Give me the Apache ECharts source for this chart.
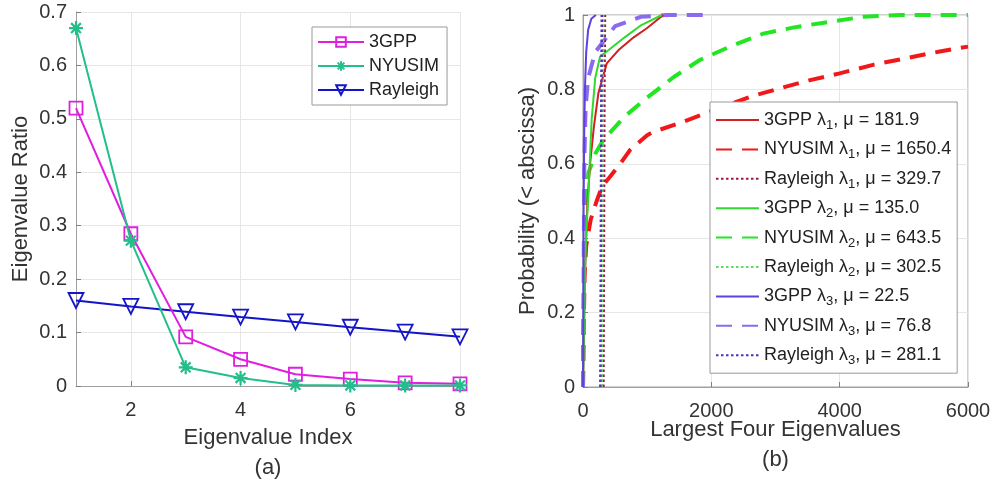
<!DOCTYPE html>
<html><head><meta charset="utf-8">
<script src="https://cdn.jsdelivr.net/npm/echarts@6/dist/echarts.min.js"></script>
<style>html,body{margin:0;padding:0;background:#fff}#c{width:995px;height:482px}</style>
</head><body><div id="c"></div>
<script>
// ---- (a) eigenvalue ratios ----
const evIndex = [1, 2, 3, 4, 5, 6, 7, 8];
const ratio3GPP = [0.520, 0.285, 0.092, 0.050, 0.022, 0.013, 0.006, 0.004];
const ratioNYUSIM = [0.670, 0.272, 0.035, 0.015, 0.002, 0.001, 0.001, 0.001];
const ratioRayleigh = [0.160, 0.149, 0.139, 0.129, 0.120, 0.110, 0.101, 0.092];
const xTicksA = [2, 4, 6, 8];

// ---- (b) CDFs of largest eigenvalues: [value, probability] ----
const cdf3GPP1 = [[0,0],[10,0.1],[20,0.2],[30,0.3],[50,0.4],[70,0.5],[110,0.6],[170,0.7],[240,0.79],[370,0.87],[550,0.905],[790,0.94],[1000,0.965],[1250,1]];
const cdfNYU1 = [[0,0],[10,0.15],[25,0.3],[50,0.38],[120,0.45],[213,0.5],[300,0.54],[421,0.565],[580,0.6],[732,0.637],[1000,0.677],[1100,0.686],[1500,0.709],[1980,0.74],[2600,0.78],[3070,0.803],[3540,0.825],[4000,0.843],[4520,0.866],[5040,0.884],[5560,0.902],[6000,0.915]];
const cdfRay1 = [[318,0],[323,0.2],[328,0.5],[334,0.8],[342,1]];
const cdf3GPP2 = [[0,0],[15,0.15],[30,0.3],[50,0.42],[80,0.5],[135,0.72],[190,0.83],[265,0.888],[400,0.906],[650,0.94],[910,0.973],[1230,1]];
const cdfNYU2 = [[0,0],[10,0.2],[20,0.35],[40,0.44],[60,0.5],[83,0.575],[200,0.63],[316,0.664],[650,0.727],[1000,0.778],[1420,0.834],[1820,0.879],[2290,0.915],[2810,0.95],[3330,0.968],[3850,0.982],[4370,0.995],[4940,1],[6000,1]];
const cdfRay2 = [[291,0],[296,0.2],[301,0.5],[307,0.8],[315,1]];
const cdf3GPP3 = [[0,0],[5,0.2],[10,0.5],[20,0.7],[30,0.8],[50,0.9],[80,0.96],[130,0.99],[200,1]];
const cdfNYU3 = [[0,0],[10,0.3],[20,0.6],[40,0.75],[80,0.83],[190,0.9],[500,0.97],[900,0.995],[1300,1],[2000,1]];
const cdfRay3 = [[270,0],[275,0.2],[280,0.5],[286,0.8],[293,1]];
const namesB = ['3GPP λ1, μ = 181.9','NYUSIM λ1, μ = 1650.4','Rayleigh λ1, μ = 329.7',
                '3GPP λ2, μ = 135.0','NYUSIM λ2, μ = 643.5','Rayleigh λ2, μ = 302.5',
                '3GPP λ3, μ = 22.5','NYUSIM λ3, μ = 76.8','Rayleigh λ3, μ = 281.1'];

const FONT = 'Liberation Sans, Arial, Helvetica, sans-serif';
const zip = (xs, ys) => xs.map((x, i) => [x, ys[i]]);
const hollow = 'rgba(255,255,255,0)';
const asterisk = 'path://M10,0L10,20M0,10L20,10M3,3L17,17M3,17L17,3';

function lineB(name, data, color, kind) {
  const ls = {color: color};
  if (kind === 'solid') { ls.width = 2; ls.type = 'solid'; }
  else if (kind === 'dash') { ls.width = 4; ls.type = [16, 10]; }
  else { ls.width = 2.5; ls.type = [2.5, 2.5]; }
  return {type: 'line', name: name, xAxisIndex: 1, yAxisIndex: 1, data: data,
          symbol: 'none', showSymbol: false, lineStyle: ls, itemStyle: {color: color}, z: kind === 'dash' ? 2 : 3};
}

const axisCommon = {
  nameMoveOverlap: false,
  axisLine: {show: true, lineStyle: {color: '#a0a0a0', width: 1}},
  axisTick: {show: true, inside: true, length: 5, lineStyle: {color: '#808080'}},
  splitLine: {show: true, lineStyle: {color: '#e6e6e6', width: 1}},
  axisLabel: {fontFamily: FONT, fontSize: 20, color: '#333'},
  nameTextStyle: {fontFamily: FONT, fontSize: 22, color: '#333'}
};
function ax(extra) {
  const base = echarts.util.merge({}, axisCommon, true);
  base.axisLabel.formatter = v => String(v);
  return echarts.util.merge(base, extra, true);
}

const option = {
  animation: false,
  backgroundColor: '#fff',
  textStyle: {fontFamily: FONT},
  grid: [
    {left: 76, top: 12, width: 384, height: 374, containLabel: false, outerBoundsMode: 'none'},
    {left: 583, top: 15, width: 385, height: 372, containLabel: false, outerBoundsMode: 'none',
     show: true, borderColor: '#a0a0a0', borderWidth: 1, backgroundColor: 'rgba(0,0,0,0)'}
  ],
  xAxis: [
    ax({type: 'value', gridIndex: 0, min: 1, max: 8,
        axisTick: {customValues: xTicksA}, axisLabel: {customValues: xTicksA, margin: 14},
        name: 'Eigenvalue Index\n(a)', nameLocation: 'middle', nameGap: 37,
        nameTextStyle: {lineHeight: 30}}),
    ax({type: 'value', gridIndex: 1, min: 0, max: 6000, interval: 2000,
        axisLabel: {margin: 14},
        name: 'Largest Four Eigenvalues\n(b)', nameLocation: 'middle', nameGap: 28,
        nameTextStyle: {lineHeight: 30}})
  ],
  yAxis: [
    ax({type: 'value', gridIndex: 0, min: 0, max: 0.7, interval: 0.1,
        axisLabel: {margin: 9},
        name: 'Eigenvalue Ratio', nameLocation: 'middle', nameGap: 44}),
    ax({type: 'value', gridIndex: 1, min: 0, max: 1, interval: 0.2,
        axisLabel: {margin: 8},
        name: 'Probability (< abscissa)', nameLocation: 'middle', nameGap: 44})
  ],
  legend: [
    {data: ['3GPP', 'NYUSIM', 'Rayleigh'], orient: 'vertical', left: 312, top: 27,
     padding: [4, 8, 4, 5], itemWidth: 46, itemHeight: 12, itemGap: 2, selectedMode: false,
     backgroundColor: '#fff', borderColor: '#999', borderWidth: 1,
     textStyle: {fontFamily: FONT, fontSize: 18, lineHeight: 22, color: '#222'}},
    {data: namesB, orient: 'vertical', left: 710, top: 102,
     padding: [6, 6, 6, 5], itemWidth: 43, itemHeight: 14, itemGap: 5.4, selectedMode: false,
     backgroundColor: '#fff', borderColor: '#999', borderWidth: 1,
     itemStyle: {opacity: 0},
     formatter: n => n.replace(/λ(\d)/, 'λ{sub|$1}'),
     textStyle: {fontFamily: FONT, fontSize: 18, lineHeight: 24, color: '#222',
       rich: {sub: {fontFamily: FONT, fontSize: 13, lineHeight: 10, verticalAlign: 'bottom', color: '#222'}}}}
  ],
  series: [
    {type: 'line', name: '3GPP', xAxisIndex: 0, yAxisIndex: 0, data: zip(evIndex, ratio3GPP),
     symbol: 'rect', symbolSize: 13, lineStyle: {color: '#e01ee0', width: 2},
     itemStyle: {color: hollow, borderColor: '#e01ee0', borderWidth: 1.8}, z: 3},
    {type: 'line', name: 'NYUSIM', xAxisIndex: 0, yAxisIndex: 0, data: zip(evIndex, ratioNYUSIM),
     symbol: asterisk, symbolSize: 14, lineStyle: {color: '#22bf8c', width: 2},
     itemStyle: {color: '#22bf8c', borderColor: '#22bf8c', borderWidth: 2.2}, z: 4},
    {type: 'line', name: 'Rayleigh', xAxisIndex: 0, yAxisIndex: 0, data: zip(evIndex, ratioRayleigh),
     symbol: 'triangle', symbolRotate: 180, symbolSize: 15, lineStyle: {color: '#1414c8', width: 2},
     itemStyle: {color: hollow, borderColor: '#1414c8', borderWidth: 1.8}, z: 2},
    lineB(namesB[1], cdfNYU1, '#f01818', 'dash'),
    lineB(namesB[4], cdfNYU2, '#22e622', 'dash'),
    lineB(namesB[7], cdfNYU3, '#8a6af0', 'dash'),
    lineB(namesB[0], cdf3GPP1, '#d02020', 'solid'),
    lineB(namesB[3], cdf3GPP2, '#30d830', 'solid'),
    lineB(namesB[6], cdf3GPP3, '#6040e0', 'solid'),
    lineB(namesB[2], cdfRay1, '#a0183a', 'dot'),
    lineB(namesB[5], cdfRay2, '#60dd60', 'dot'),
    lineB(namesB[8], cdfRay3, '#5030c0', 'dot')
  ]
};
const chart = echarts.init(document.getElementById('c'), null, {renderer: 'canvas'});
chart.setOption(option);
</script>
</body></html>
